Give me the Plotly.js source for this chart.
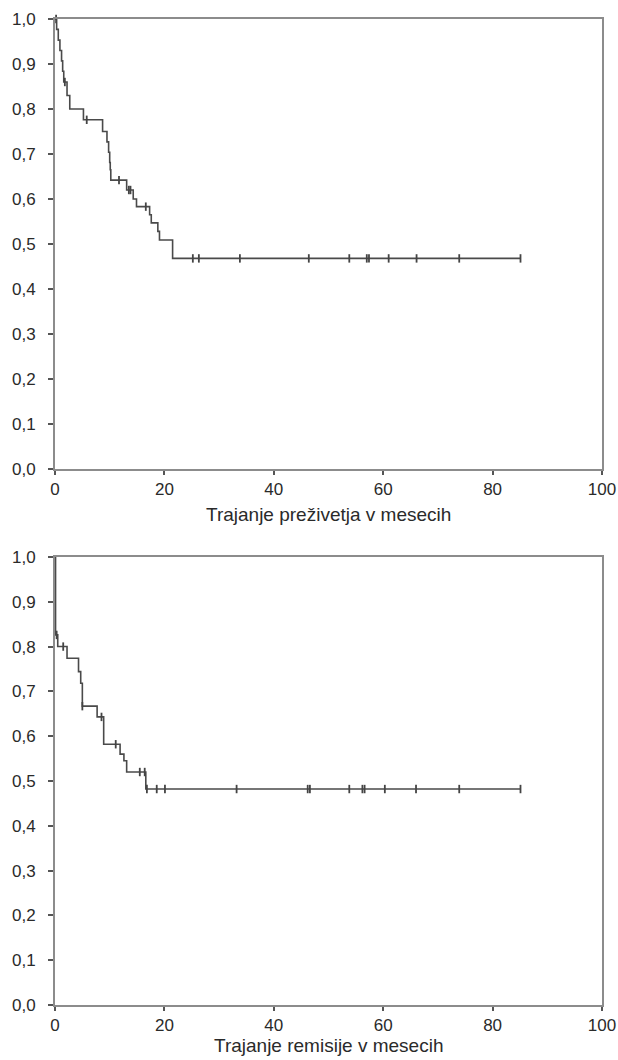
<!DOCTYPE html>
<html><head><meta charset="utf-8">
<script src="https://cdn.plot.ly/plotly-3.0.1.min.js"></script>
<style>html,body{margin:0;padding:0;background:#fff}</style>
</head><body><div id="chart" style="width:618px;height:1060px"></div>
<script>
// Survival (top chart)
const survTimes  = [0, 0.3, 0.6, 0.9, 1.2, 1.4, 1.6, 2.2, 2.7, 5.2, 8.7, 9.5, 9.8, 10.0, 10.1, 10.2, 13.1, 14.3, 14.9, 17.3, 17.6, 18.8, 19.1, 21.5];
const survValues = [1.0, 0.977, 0.953, 0.93, 0.907, 0.884, 0.86, 0.83, 0.80, 0.776, 0.75, 0.727, 0.704, 0.681, 0.665, 0.642, 0.62, 0.60, 0.583, 0.565, 0.547, 0.528, 0.509, 0.468];
const survCensored = [0.2, 1.8, 5.8, 11.7, 13.5, 13.8, 16.6, 25.2, 26.3, 33.8, 46.4, 53.8, 57.0, 57.4, 61.0, 66.1, 73.9, 85.1];
const survEnd = 85.1;

// Remission (bottom chart)
const remTimes  = [0, 0.1, 0.5, 2.2, 4.3, 4.7, 5.0, 7.7, 8.9, 11.9, 12.6, 13.1, 16.6];
const remValues = [1.0, 0.826, 0.80, 0.774, 0.744, 0.718, 0.667, 0.643, 0.582, 0.56, 0.545, 0.52, 0.482];
const remCensored = [0.3, 1.5, 5.0, 8.5, 11.1, 15.5, 16.4, 16.8, 18.6, 20.1, 33.2, 46.2, 46.6, 53.8, 56.2, 56.6, 60.3, 66.0, 73.9, 85.1];
const remEnd = 85.1;

const xTickVals = [0, 20, 40, 60, 80, 100];
const xTickText = ['0', '20', '40', '60', '80', '100'];
const yTickVals = [0, 0.1, 0.2, 0.3, 0.4, 0.5, 0.6, 0.7, 0.8, 0.9, 1.0];
const yTickText = ['0,0', '0,1', '0,2', '0,3', '0,4', '0,5', '0,6', '0,7', '0,8', '0,9', '1,0'];
const titleTop = 'Trajanje preživetja v mesecih';
const titleBottom = 'Trajanje remisije v mesecih';

function stepAt(times, values, t) {
  let v = values[0];
  for (let i = 0; i < times.length; i++) { if (times[i] <= t) v = values[i]; }
  return v;
}
function lineTrace(times, values, end, xa, ya) {
  return {
    x: times.concat([end]), y: values.concat([values[values.length - 1]]),
    type: 'scatter', mode: 'lines', line: {shape: 'hv', color: '#4a4a4a', width: 1.6},
    xaxis: xa, yaxis: ya, hoverinfo: 'skip', cliponaxis: false
  };
}
function censorTrace(times, values, cens, xa, ya) {
  return {
    x: cens, y: cens.map(t => stepAt(times, values, t)),
    type: 'scatter', mode: 'markers',
    marker: {symbol: 'line-ns', size: 6, line: {width: 1.8, color: '#444'}},
    xaxis: xa, yaxis: ya, hoverinfo: 'skip', cliponaxis: false
  };
}

const data = [
  lineTrace(survTimes, survValues, survEnd, 'x', 'y'),
  censorTrace(survTimes, survValues, survCensored, 'x', 'y'),
  lineTrace(remTimes, remValues, remEnd, 'x2', 'y2'),
  censorTrace(remTimes, remValues, remCensored, 'x2', 'y2')
];

const axX = {
  range: [0, 100], tickvals: xTickVals, ticktext: xTickText,
  showline: true, mirror: true, linecolor: '#8c8c8c', linewidth: 2,
  ticks: 'outside', ticklen: 4, tickwidth: 2, tickcolor: '#555',
  showgrid: false, zeroline: false, fixedrange: true,
  tickfont: {size: 17, color: '#2a2a2a'}, ticklabelstandoff: 0
};
const axY = {
  range: [0, 1], tickvals: yTickVals, ticktext: yTickText,
  showline: true, mirror: true, linecolor: '#8c8c8c', linewidth: 2,
  ticks: 'outside', ticklen: 5, tickwidth: 2, tickcolor: '#555',
  showgrid: false, zeroline: false, fixedrange: true,
  tickfont: {size: 17, color: '#2a2a2a'}, ticklabelstandoff: 9
};

const layout = {
  width: 618, height: 1060,
  margin: {l: 55, r: 16, t: 19, b: 55},
  showlegend: false,
  paper_bgcolor: '#fff', plot_bgcolor: '#fff',
  font: {family: '"Liberation Sans", Arial, Helvetica, sans-serif', size: 17, color: '#2a2a2a'},
  xaxis: Object.assign({}, axX, {anchor: 'y', domain: [0, 1]}),
  yaxis: Object.assign({}, axY, {anchor: 'x', domain: [0.5436, 1]}),
  xaxis2: Object.assign({}, axX, {anchor: 'y2', domain: [0, 1]}),
  yaxis2: Object.assign({}, axY, {anchor: 'x2', domain: [0, 0.4544]}),
  annotations: [
    {text: titleTop, xref: 'paper', yref: 'paper', x: 0.5, y: 0.497, xanchor: 'center', yanchor: 'middle', showarrow: false, font: {size: 19, color: '#2a2a2a'}},
    {text: titleBottom, xref: 'paper', yref: 'paper', x: 0.5, y: -0.0415, xanchor: 'center', yanchor: 'middle', showarrow: false, font: {size: 19, color: '#2a2a2a'}}
  ]
};

Plotly.newPlot('chart', data, layout, {displayModeBar: false, staticPlot: true});
</script>
</body></html>
